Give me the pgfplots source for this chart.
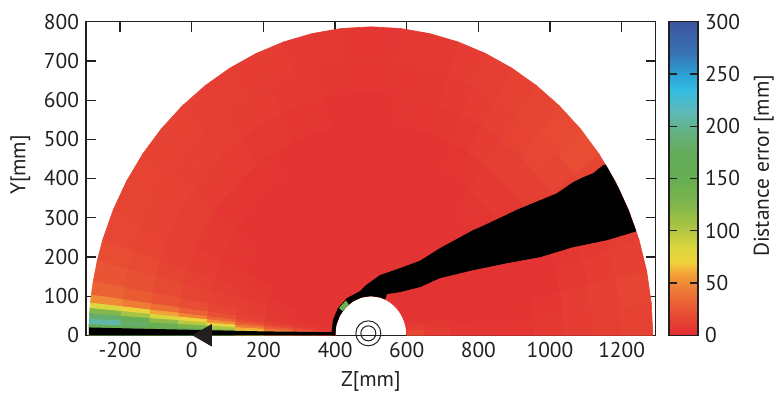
\documentclass[border=0pt]{standalone}
\usepackage{fontspec}
\setmainfont{PT Sans}
\usepackage{pgfplots}
\usepackage{pgfplotstable}
\pgfplotsset{compat=1.18}
\definecolor{axgray}{RGB}{35,31,32}
\definecolor{patchgreen}{RGB}{105,180,80}

\pgfplotstableread[row sep=\\]{
t r c\\
0 100 26\\ 6 100 18\\ 12 100 10\\ 18 100 6\\ 24 100 4\\ 30 100 4\\ 36 100 4\\ 42 100 4\\ 48 100 4\\ 54 100 4\\ 60 100 6\\ 66 100 10\\ 72 100 16\\ 78 100 14\\ 84 100 6\\ 90 100 4\\ 96 100 4\\ 102 100 4\\ 108 100 4\\ 114 100 4\\ 120 100 4\\ 126 100 6\\ 132 100 6\\ 138 100 6\\ 144 100 6\\ 150 100 6\\ 156 100 6\\ 162 100 6\\ 166 100 6\\ 170 100 6\\ 172.5 100 6\\ 174 100 6\\ 175 100 6\\ 176 100 6\\ 177 100 6\\ 178 100 6\\ 179 100 6\\ 180 100 6\\
0 150 14\\ 6 150 10\\ 12 150 6\\ 18 150 4\\ 24 150 4\\ 30 150 4\\ 36 150 4\\ 42 150 4\\ 48 150 4\\ 54 150 4\\ 60 150 4\\ 66 150 4\\ 72 150 6\\ 78 150 6\\ 84 150 4\\ 90 150 4\\ 96 150 4\\ 102 150 4\\ 108 150 4\\ 114 150 4\\ 120 150 4\\ 126 150 4\\ 132 150 4\\ 138 150 4\\ 144 150 4\\ 150 150 4\\ 156 150 4\\ 162 150 4\\ 166 150 4\\ 170 150 4\\ 172.5 150 6\\ 174 150 8\\ 175 150 10\\ 176 150 14\\ 177 150 20\\ 178 150 26\\ 179 150 28\\ 180 150 28\\
0 220 8\\ 6 220 6\\ 12 220 4\\ 18 220 4\\ 24 220 4\\ 30 220 4\\ 36 220 4\\ 42 220 4\\ 48 220 4\\ 54 220 4\\ 60 220 4\\ 66 220 4\\ 72 220 4\\ 78 220 4\\ 84 220 4\\ 90 220 4\\ 96 220 4\\ 102 220 4\\ 108 220 4\\ 114 220 4\\ 120 220 4\\ 126 220 4\\ 132 220 4\\ 138 220 4\\ 144 220 4\\ 150 220 4\\ 156 220 4\\ 162 220 5\\ 166 220 6\\ 170 220 6\\ 172.5 220 8\\ 174 220 10\\ 175 220 14\\ 176 220 20\\ 177 220 30\\ 178 220 40\\ 179 220 42\\ 180 220 42\\
0 300 6\\ 6 300 4\\ 12 300 4\\ 18 300 4\\ 24 300 4\\ 30 300 4\\ 36 300 4\\ 42 300 4\\ 48 300 4\\ 54 300 4\\ 60 300 4\\ 66 300 4\\ 72 300 4\\ 78 300 4\\ 84 300 4\\ 90 300 4\\ 96 300 4\\ 102 300 4\\ 108 300 4\\ 114 300 4\\ 120 300 4\\ 126 300 4\\ 132 300 4\\ 138 300 4\\ 144 300 4\\ 150 300 4\\ 156 300 5\\ 162 300 6\\ 166 300 8\\ 170 300 8\\ 172.5 300 10\\ 174 300 12\\ 175 300 18\\ 176 300 28\\ 177 300 40\\ 178 300 56\\ 179 300 60\\ 180 300 60\\
0 380 6\\ 6 380 5\\ 12 380 4\\ 18 380 4\\ 24 380 4\\ 30 380 4\\ 36 380 4\\ 42 380 4\\ 48 380 4\\ 54 380 4\\ 60 380 4\\ 66 380 4\\ 72 380 4\\ 78 380 4\\ 84 380 4\\ 90 380 4\\ 96 380 4\\ 102 380 4\\ 108 380 4\\ 114 380 4\\ 120 380 4\\ 126 380 4\\ 132 380 4\\ 138 380 4\\ 144 380 4\\ 150 380 5\\ 156 380 6\\ 162 380 8\\ 166 380 10\\ 170 380 12\\ 172.5 380 14\\ 174 380 20\\ 175 380 30\\ 176 380 46\\ 177 380 66\\ 178 380 86\\ 179 380 92\\ 180 380 92\\
0 460 6\\ 6 460 6\\ 12 460 5\\ 18 460 4\\ 24 460 4\\ 30 460 4\\ 36 460 5\\ 42 460 6\\ 48 460 7\\ 54 460 6\\ 60 460 5\\ 66 460 4\\ 72 460 4\\ 78 460 4\\ 84 460 4\\ 90 460 4\\ 96 460 4\\ 102 460 4\\ 108 460 4\\ 114 460 4\\ 120 460 4\\ 126 460 4\\ 132 460 4\\ 138 460 5\\ 144 460 6\\ 150 460 6\\ 156 460 8\\ 162 460 10\\ 166 460 12\\ 170 460 14\\ 172.5 460 20\\ 174 460 32\\ 175 460 50\\ 176 460 76\\ 177 460 110\\ 178 460 150\\ 179 460 168\\ 180 460 168\\
0 540 8\\ 6 540 10\\ 12 540 6\\ 18 540 5\\ 24 540 5\\ 30 540 6\\ 36 540 8\\ 42 540 10\\ 48 540 11\\ 54 540 9\\ 60 540 8\\ 66 540 6\\ 72 540 6\\ 78 540 5\\ 84 540 4\\ 90 540 4\\ 96 540 4\\ 102 540 5\\ 108 540 6\\ 114 540 6\\ 120 540 6\\ 126 540 7\\ 132 540 8\\ 138 540 8\\ 144 540 9\\ 150 540 10\\ 156 540 11\\ 162 540 12\\ 166 540 14\\ 170 540 18\\ 172.5 540 26\\ 174 540 44\\ 175 540 64\\ 176 540 90\\ 177 540 120\\ 178 540 145\\ 179 540 150\\ 180 540 150\\
0 620 9\\ 6 620 12\\ 12 620 10\\ 18 620 8\\ 24 620 6\\ 30 620 8\\ 36 620 12\\ 42 620 14\\ 48 620 15\\ 54 620 12\\ 60 620 10\\ 66 620 8\\ 72 620 7\\ 78 620 6\\ 84 620 6\\ 90 620 5\\ 96 620 5\\ 102 620 6\\ 108 620 7\\ 114 620 8\\ 120 620 9\\ 126 620 10\\ 132 620 11\\ 138 620 12\\ 144 620 12\\ 150 620 13\\ 156 620 13\\ 162 620 14\\ 166 620 18\\ 170 620 22\\ 172.5 620 30\\ 174 620 52\\ 175 620 78\\ 176 620 110\\ 177 620 150\\ 178 620 170\\ 179 620 150\\ 180 620 150\\
0 700 11\\ 6 700 15\\ 12 700 13\\ 18 700 10\\ 24 700 9\\ 30 700 10\\ 36 700 18\\ 42 700 18\\ 48 700 16\\ 54 700 14\\ 60 700 12\\ 66 700 10\\ 72 700 8\\ 78 700 7\\ 84 700 7\\ 90 700 7\\ 96 700 7\\ 102 700 8\\ 108 700 9\\ 114 700 10\\ 120 700 11\\ 126 700 12\\ 132 700 13\\ 138 700 13\\ 144 700 13\\ 150 700 14\\ 156 700 14\\ 162 700 16\\ 166 700 22\\ 170 700 26\\ 172.5 700 34\\ 174 700 60\\ 175 700 98\\ 176 700 140\\ 177 700 220\\ 178 700 190\\ 179 700 130\\ 180 700 130\\
0 787 12\\ 6 787 16\\ 12 787 16\\ 18 787 10\\ 24 787 10\\ 30 787 10\\ 36 787 24\\ 42 787 20\\ 48 787 17\\ 54 787 15\\ 60 787 13\\ 66 787 11\\ 72 787 9\\ 78 787 8\\ 84 787 7\\ 90 787 7\\ 96 787 7\\ 102 787 8\\ 108 787 9\\ 114 787 10\\ 120 787 11\\ 126 787 12\\ 132 787 13\\ 138 787 14\\ 144 787 14\\ 150 787 15\\ 156 787 16\\ 162 787 18\\ 166 787 24\\ 170 787 28\\ 172.5 787 38\\ 174 787 68\\ 175 787 108\\ 176 787 150\\ 177 787 235\\ 178 787 190\\ 179 787 130\\ 180 787 130\\
}\heat

\begin{document}
\begin{tikzpicture}
\useasboundingbox (-43pt,-28.35pt) rectangle (346pt,167.65pt);
\begin{axis}[
  at={(0,0)}, anchor=south west,
  width=284.85pt, height=156.8pt, scale only axis,
  xmin=-295, xmax=1295, ymin=0, ymax=800,
  xtick={-200,0,200,400,600,800,1000,1200},
  ytick={0,100,200,300,400,500,600,700,800},
  tick align=inside, major tick length=5pt,
  tick style={axgray, line width=0.6pt},
  axis line style={axgray, line width=0.6pt},
  clip=false,
  font=\fontsize{10.7}{12}\selectfont,
  tick label style={axgray},
  label style={axgray},
  /pgf/number format/assume math mode=true,
  /pgf/number format/1000 sep={},
  xlabel={Z[mm]}, ylabel={Y[mm]},
  every axis y label/.append style={at={(ticklabel cs:0.543)}},
  colormap={errmap}{rgb255(0pt)=(226,44,50); rgb255(25pt)=(233,85,52); rgb255(45pt)=(239,125,55); rgb255(60pt)=(244,165,55); rgb255(70pt)=(238,212,58); rgb255(85pt)=(218,214,62); rgb255(100pt)=(180,200,66); rgb255(125pt)=(128,182,76); rgb255(150pt)=(102,174,82); rgb255(175pt)=(100,172,90); rgb255(195pt)=(100,178,130); rgb255(215pt)=(92,186,186); rgb255(235pt)=(50,188,226); rgb255(250pt)=(45,160,212); rgb255(270pt)=(55,115,180); rgb255(300pt)=(60,85,160)},
  point meta min=0, point meta max=300,
  colorbar,
  colorbar style={
    at={(1.02335,1)}, anchor=north west,
    width=14.5pt,
    ytick={0,50,100,150,200,250,300},
    tick align=inside, major tick length=4pt,
    ytick pos=both, yticklabel pos=right,
    ylabel={Distance error [mm]},
    every axis y label/.append style={at={(ticklabel cs:0.54)}},
    font=\fontsize{10.7}{12}\selectfont,
    tick label style={axgray},
    label style={axgray},
    /pgf/number format/assume math mode=true,
    axis line style={axgray, line width=0.6pt},
    tick style={axgray, line width=0.6pt},
  },
]
\addplot[surf, shader=faceted, faceted color=mapped color, line width=0.3pt,
  mesh/cols=38, mesh/rows=10, point meta=\thisrow{c}]
  table[x expr={500+\thisrow{r}*cos(\thisrow{t})}, y expr={\thisrow{r}*sin(\thisrow{t})}] {\heat};

% bottom unmeasured strip
\addplot[fill=black, draw=none] coordinates {(-286.5,0) (-286.5,20) (-150,17) (0,14) (100,12) (200,10) (300,9) (392,8) (400,0)} -- cycle;

% shadow wedge
\addplot[fill=black, draw=none] coordinates {(390,0) (390,5.9) (394.1,38.9) (408.1,69.5) (433.3,94.9) (469.5,112.6) (486.3,127.9) (525.3,153.4) (581.1,171.2) (636.9,190) (692.7,222.1) (784.7,267.9) (804.2,275.6) (880,308) (907,320) (971.5,344.3) (1019.0,362.1) (1063.6,390.1) (1091.5,402.8) (1119.4,412.9) (1147.3,433.3) (1155.5,435.5) (1167.4,417.0) (1194.9,369.5) (1218.9,320.1) (1241,265.3) (1158.4,242.5) (1063.6,224.7) (971.5,199.2) (879.5,183.9) (784.7,166.1) (692.7,145.8) (636.9,122.9) (581.1,110.2) (544.8,105.1) (540,91.7) (525.9,96.6) (500,100) (474.1,96.6) (450,86.6) (429.3,70.7) (413.4,50) (403.4,25.9) (400,0)} -- cycle;

% green spot at obstacle edge
\addplot[fill=patchgreen, draw=none] coordinates {(438.4,78.8) (430.4,89.0) (411.0,69.6) (421.2,61.6)} -- cycle;

% markers
\addplot[only marks, mark=o, mark size=6.25pt, mark options={draw=axgray, line width=0.5pt}] coordinates {(493,5)};
\addplot[only marks, mark=o, mark size=3.75pt, mark options={draw=axgray, line width=0.5pt}] coordinates {(493,5)};
\addplot[only marks, mark=triangle*, mark size=6.1pt, mark options={rotate=90, fill=axgray, draw=axgray}] coordinates {(38,0)};
\end{axis}
\end{tikzpicture}
\end{document}
